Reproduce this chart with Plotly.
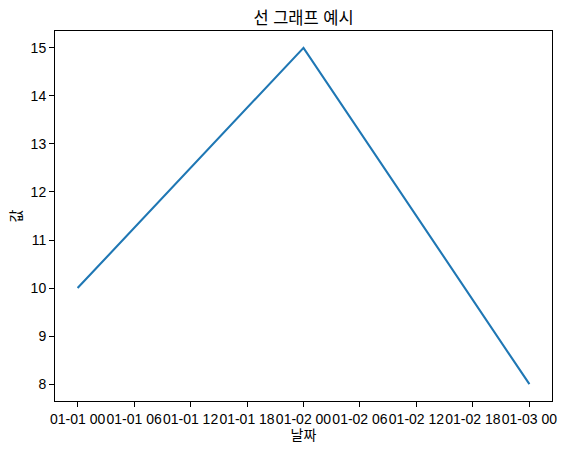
import plotly.graph_objects as go
import pandas as pd

dates = ["2024-01-01", "2024-01-02", "2024-01-03"]
values = [10, 15, 8]
title = "선 그래프 예시"
x_label = "날짜"
y_label = "값"

font_family = "Liberation Sans, Noto Sans CJK KR, sans-serif"

x = pd.to_datetime(dates)
start = x.min()
end = x.max()
span = end - start
xr = [start - span * 0.05, end + span * 0.05]
ymin, ymax = min(values), max(values)
ysp = ymax - ymin
yr = [ymin - ysp * 0.05, ymax + ysp * 0.05]

fig = go.Figure()
fig.add_trace(go.Scatter(x=x, y=values, mode="lines",
                         line=dict(color="#1f77b4", width=2.1)))

# page body has an 8px default margin; size the figure to fit the window
fig.update_layout(
    width=552, height=436,
    margin=dict(l=47, r=8, t=23, b=43),
    paper_bgcolor="white", plot_bgcolor="white",
    font=dict(family=font_family, size=14, color="black"),
    showlegend=False,
    title=dict(text=title, x=0.5, xref="paper", xanchor="center",
               y=1, yref="paper", yanchor="bottom",
               pad=dict(b=7), font=dict(size=16.5, color="black")),
)
fig.update_xaxes(
    type="date", range=xr, tickformat="%m-%d %H",
    dtick=6 * 3600 * 1000, tick0=start, tickangle=0,
    showgrid=False, zeroline=False, automargin=False,
    showline=True, linecolor="black", linewidth=1, mirror=True,
    ticks="outside", ticklen=5, tickcolor="black", tickwidth=1,
    title=dict(text=x_label, standoff=3, font=dict(size=14)),
    tickfont=dict(size=14),
)
fig.update_yaxes(
    range=yr, dtick=1,
    showgrid=False, zeroline=False, automargin=False,
    showline=True, linecolor="black", linewidth=1, mirror=True,
    ticks="outside", ticklen=5, tickcolor="black", tickwidth=1,
    title=dict(text=y_label, standoff=8, font=dict(size=14)),
    tickfont=dict(size=14),
)

fig.write_html("out.html")
